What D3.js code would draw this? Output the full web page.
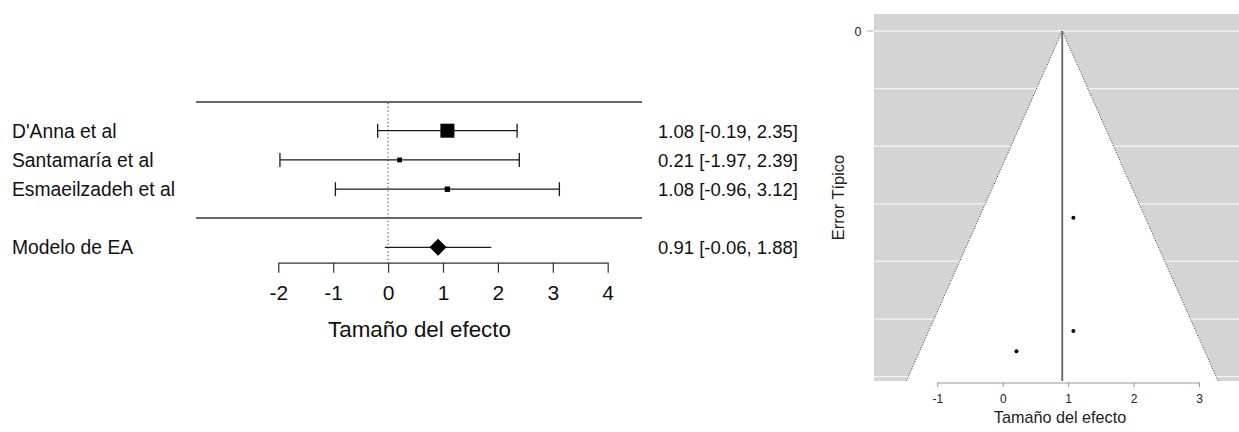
<!DOCTYPE html>
<html>
<head>
<meta charset="utf-8">
<script src="https://cdn.jsdelivr.net/npm/d3@7"></script>
<style>
  html, body { margin: 0; padding: 0; background: #ffffff; }
  svg { display: block; font-family: "Liberation Sans", Arial, sans-serif; }
</style>
</head>
<body>
<svg id="chart" width="1239" height="432"></svg>
<script>
// Study-level results (effect size with 95% CI)
const studies = ["D'Anna et al", "Santamaría et al", "Esmaeilzadeh et al"];
const estimates = [1.08, 0.21, 1.08];
const ciLower = [-0.19, -1.97, -0.96];
const ciUpper = [2.35, 2.39, 3.12];
const weights = [57.9, 19.7, 22.4];          // % weight in the pooled model
const standardErrors = [0.648, 1.112, 1.041];

// Pooled random-effects result
const modelLabel = "Modelo de EA";
const modelEstimate = 0.91;
const modelLower = -0.06;
const modelUpper = 1.88;

// Axis ticks
const forestTicks = [-2, -1, 0, 1, 2, 3, 4];
const funnelXTicks = [-1, 0, 1, 2, 3];
const funnelYTicks = [0];
const funnelGrid = [0, 0.2, 0.4, 0.6, 0.8, 1.0, 1.2];
const seMax = 1.215;

// plain hyphen for negatives, as R prints them
const fmt = v => v.toFixed(2);
const intFmt = v => String(v);
const svg = d3.select("#chart");

/* ---------------- Forest plot ---------------- */
const fx = d3.scaleLinear().domain([-2, 4]).range([278.3, 607.7]);
const rowY = d3.scalePoint().domain(studies).range([130.7, 189.2]);
const modelY = 247.3;
const sizeScale = d3.scaleLinear().domain([0, d3.max(weights)]).range([0, 14]);
const forest = svg.append("g");
const ink = "#1a1a1a";
const labelSize = 19.3, valueSize = 18.5;

// separator lines
[102, 218].forEach(y => {
  forest.append("line").attr("x1", 196).attr("x2", 642).attr("y1", y).attr("y2", y)
    .attr("stroke", "#333").attr("stroke-width", 1.5);
});

// null effect reference line
forest.append("line")
  .attr("x1", fx(0)).attr("x2", fx(0)).attr("y1", 103).attr("y2", 262.7)
  .attr("stroke", "#444").attr("stroke-width", 1.1).attr("stroke-dasharray", "1.2,2.6");

studies.forEach((s, i) => {
  const y = rowY(s);
  forest.append("text").attr("x", 12).attr("y", y + 7)
    .attr("font-size", labelSize).attr("fill", "#111").text(s);
  forest.append("line").attr("x1", fx(ciLower[i])).attr("x2", fx(ciUpper[i]))
    .attr("y1", y).attr("y2", y).attr("stroke", ink).attr("stroke-width", 1.3);
  [ciLower[i], ciUpper[i]].forEach(v => {
    forest.append("line").attr("x1", fx(v)).attr("x2", fx(v))
      .attr("y1", y - 7).attr("y2", y + 7).attr("stroke", ink).attr("stroke-width", 1.3);
  });
  const sz = sizeScale(weights[i]);
  forest.append("rect").attr("x", fx(estimates[i]) - sz / 2).attr("y", y - sz / 2)
    .attr("width", sz).attr("height", sz).attr("fill", "#000");
  forest.append("text").attr("x", 658).attr("y", y + 6.8)
    .attr("font-size", valueSize).attr("fill", "#111")
    .text(`${fmt(estimates[i])} [${fmt(ciLower[i])}, ${fmt(ciUpper[i])}]`);
});

// pooled estimate row
forest.append("text").attr("x", 12).attr("y", modelY + 7)
  .attr("font-size", labelSize).attr("fill", "#111").text(modelLabel);
forest.append("line").attr("x1", fx(modelLower)).attr("x2", fx(modelUpper))
  .attr("y1", modelY).attr("y2", modelY).attr("stroke", ink).attr("stroke-width", 1.3);
const dm = fx(modelEstimate);
forest.append("path")
  .attr("d", `M${dm - 8.5},${modelY} L${dm},${modelY - 8.5} L${dm + 8.5},${modelY} L${dm},${modelY + 8.5} Z`)
  .attr("fill", "#000");
forest.append("text").attr("x", 658).attr("y", modelY + 6.8)
  .attr("font-size", valueSize).attr("fill", "#111")
  .text(`${fmt(modelEstimate)} [${fmt(modelLower)}, ${fmt(modelUpper)}]`);

// x axis
const fAxis = forest.append("g").attr("transform", "translate(0,262.7)")
  .call(d3.axisBottom(fx).tickValues(forestTicks).tickSize(10)
    .tickFormat(intFmt).tickSizeOuter(0));
fAxis.select(".domain").attr("stroke", "#333").attr("stroke-width", 1.2);
fAxis.selectAll(".tick line").attr("stroke", "#333").attr("stroke-width", 1.2);
fAxis.selectAll(".tick text").attr("font-size", 21).attr("fill", "#111")
  .attr("font-family", "Liberation Sans, Arial, sans-serif")
  .attr("y", 37.3).attr("dy", 0);
forest.append("text").attr("x", 419.5).attr("y", 336.7).attr("text-anchor", "middle")
  .attr("font-size", 22.4).attr("fill", "#111").text("Tamaño del efecto");

/* ---------------- Funnel plot ---------------- */
const ux = d3.scaleLinear().domain([-1, 3]).range([937.3, 1199]);
const uy = d3.scaleLinear().domain([0, seMax]).range([31, 381]);
const funnel = svg.append("g");
const plotLeft = 874, plotRight = 1239, plotTop = 14, plotBottom = 381;

funnel.append("rect").attr("x", plotLeft).attr("y", plotTop)
  .attr("width", plotRight - plotLeft).attr("height", plotBottom - plotTop)
  .attr("fill", "#d4d4d4");

funnel.selectAll(".grid").data(funnelGrid).join("line")
  .attr("x1", plotLeft).attr("x2", plotRight)
  .attr("y1", d => uy(d)).attr("y2", d => uy(d))
  .attr("stroke", "#f2f2f2").attr("stroke-width", 1.3);

// pseudo-confidence region
const lo = modelEstimate - 1.96 * seMax, hi = modelEstimate + 1.96 * seMax;
funnel.append("path")
  .attr("d", `M${ux(modelEstimate)},${uy(0)} L${ux(lo)},${uy(seMax)} L${ux(hi)},${uy(seMax)} Z`)
  .attr("fill", "#ffffff");
[lo, hi].forEach(v => {
  funnel.append("line").attr("x1", ux(modelEstimate)).attr("y1", uy(0))
    .attr("x2", ux(v)).attr("y2", uy(seMax))
    .attr("stroke", "#333").attr("stroke-width", 1).attr("stroke-dasharray", "1,1.6");
});

funnel.append("line").attr("x1", ux(modelEstimate)).attr("x2", ux(modelEstimate))
  .attr("y1", uy(0)).attr("y2", plotBottom).attr("stroke", "#666").attr("stroke-width", 1.8);

funnel.selectAll(".pt").data(estimates).join("circle")
  .attr("cx", d => ux(d)).attr("cy", (d, i) => uy(standardErrors[i]))
  .attr("r", 2).attr("fill", "#000");

// y axis
funnel.selectAll(".ytick").data(funnelYTicks).join("line")
  .attr("x1", 866.7).attr("x2", 873.3).attr("y1", d => uy(d)).attr("y2", d => uy(d))
  .attr("stroke", "#aaa").attr("stroke-width", 1);
funnel.selectAll(".ylab").data(funnelYTicks).join("text")
  .attr("x", 861.5).attr("y", d => uy(d) + 4.5).attr("text-anchor", "end")
  .attr("font-size", 12.5).attr("fill", "#222").text(d => d);
funnel.append("text").attr("transform", "translate(844,197.5) rotate(-90)")
  .attr("text-anchor", "middle").attr("font-size", 16.4).attr("fill", "#222").text("Error Típico");

// x axis
const uAxis = funnel.append("g").attr("transform", `translate(0,${plotBottom + 1.5})`)
  .call(d3.axisBottom(ux).tickValues(funnelXTicks).tickSize(4.5)
    .tickFormat(intFmt).tickSizeOuter(0));
uAxis.select(".domain").attr("stroke", "#9a9a9a").attr("stroke-width", 1);
uAxis.selectAll(".tick line").attr("stroke", "#9a9a9a").attr("stroke-width", 1);
uAxis.selectAll(".tick text").attr("font-size", 12).attr("fill", "#222")
  .attr("font-family", "Liberation Sans, Arial, sans-serif")
  .attr("y", 20.5).attr("dy", 0);
funnel.append("text").attr("x", 1060).attr("y", 422.5).attr("text-anchor", "middle")
  .attr("font-size", 16.2).attr("fill", "#222").text("Tamaño del efecto");
</script>
</body>
</html>
